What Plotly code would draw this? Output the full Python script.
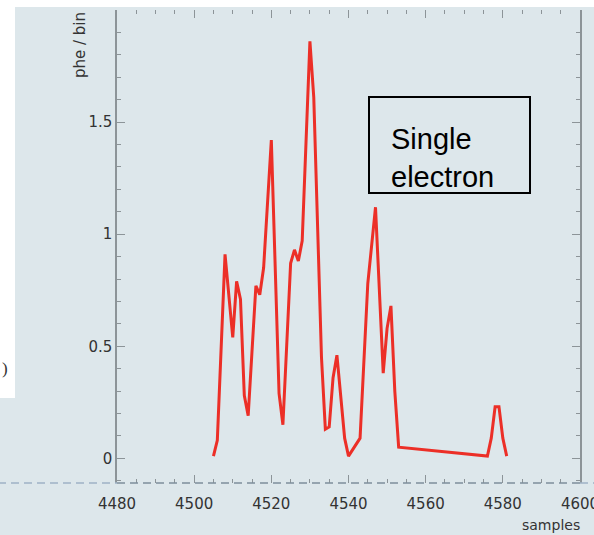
import plotly.graph_objects as go

# ---- data ----
samples = [4505, 4506, 4508, 4510, 4511, 4512, 4513, 4514, 4516, 4517, 4518, 4520,
           4522, 4523, 4525, 4526, 4527, 4528, 4530, 4531, 4533, 4534, 4535, 4536,
           4537, 4538, 4539, 4540, 4543, 4545, 4547, 4549, 4550, 4551, 4552, 4553,
           4576, 4577, 4578, 4579, 4580, 4581]
phe_per_bin = [0.01, 0.08, 0.91, 0.54, 0.79, 0.71, 0.28, 0.19, 0.77, 0.73, 0.85, 1.42,
               0.29, 0.15, 0.87, 0.93, 0.88, 0.97, 1.86, 1.61, 0.45, 0.13, 0.14, 0.36,
               0.46, 0.27, 0.09, 0.01, 0.09, 0.78, 1.12, 0.38, 0.58, 0.68, 0.30, 0.05,
               0.01, 0.09, 0.23, 0.23, 0.09, 0.01]
x_ticks = [4480, 4500, 4520, 4540, 4560, 4580, 4600]
y_ticks = [0, 0.5, 1, 1.5]
y_tick_text = ["0", "0.5", "1", "1.5"]
box_text = "Single<br>electron"
x_title = "samples"
y_title = "phe / bin"

W, H = 594, 535
L, R, T, B = 117, 14, 10, 52
pw, ph = W - L - R, H - T - B

def px(xp):
    return (xp - L) / pw

def py(yp):
    return (H - B - yp) / ph

BG = "#dde7eb"
AX = "#8c9498"
TXT = "#333333"
FONT = "DejaVu Sans"

fig = go.Figure()
fig.add_trace(go.Scatter(x=samples, y=phe_per_bin, mode="lines",
                         line=dict(color="#ec2f27", width=3), showlegend=False,
                         hoverinfo="skip"))
# invisible copy to activate the mirrored (top/right) tick axes
fig.add_trace(go.Scatter(x=samples, y=phe_per_bin, mode="lines", xaxis="x2", yaxis="y2",
                         line=dict(color="rgba(0,0,0,0)", width=0), showlegend=False,
                         hoverinfo="skip"))

xr = [4480, 4600.001]
yr = [-0.11, 2.0]
common_x = dict(range=xr, tickvals=x_ticks, ticks="inside", ticklen=8, tickwidth=1.2,
                tickcolor=AX, showgrid=False, zeroline=False, automargin=False,
                minor=dict(dtick=5, tick0=4480, ticks="inside", ticklen=4, tickcolor=AX,
                           tickwidth=1, showgrid=False))
common_y = dict(range=yr, tickvals=y_ticks, ticks="inside", ticklen=8, tickwidth=1.2,
                tickcolor=AX, showgrid=False, zeroline=False, automargin=False,
                minor=dict(dtick=0.1, tick0=0, ticks="inside", ticklen=4, tickcolor=AX,
                           tickwidth=1, showgrid=False))

fig.update_layout(
    width=W, height=H,
    margin=dict(l=L, r=R, t=T, b=B, pad=0, autoexpand=False),
    paper_bgcolor=BG, plot_bgcolor=BG,
    font=dict(family=FONT, size=15, color=TXT),
    xaxis=dict(**common_x, showline=False, ticktext=[str(v) for v in x_ticks],
               tickfont=dict(size=15, color=TXT), ticklabelstandoff=10,
               ticklabeloverflow="allow"),
    yaxis=dict(**common_y, showline=True, linecolor=AX, linewidth=1.5,
               ticktext=y_tick_text, tickfont=dict(size=15, color=TXT)),
    xaxis2=dict(**common_x, overlaying="x", side="top", showline=False,
                showticklabels=False),
    yaxis2=dict(**common_y, overlaying="y", side="right", showline=True,
                linecolor=AX, linewidth=1.5, showticklabels=False),
    showlegend=False,
)

shapes = []
# white strips (page edges of the original capture)
shapes.append(dict(type="rect", xref="paper", yref="paper", layer="above",
                   x0=px(-5), x1=px(15), y0=py(398), y1=py(-5),
                   fillcolor="white", line=dict(width=0)))
shapes.append(dict(type="rect", xref="paper", yref="paper", layer="above",
                   x0=px(-5), x1=px(W + 5), y0=py(7), y1=py(-5),
                   fillcolor="white", line=dict(width=0)))
# dashed baseline
yb = py(483)
for a, b, c in [(px(-2), 0, "#9fb3c6"), (0, 1, "#7e8f9c"), (1, px(W + 2), "#9fb3c6")]:
    shapes.append(dict(type="line", xref="paper", yref="paper", layer="above",
                       x0=a, x1=b, y0=yb, y1=yb,
                       line=dict(color=c, width=1.5, dash="8px,5px")))
# annotation box
shapes.append(dict(type="rect", xref="paper", yref="paper", layer="above",
                   x0=px(369), x1=px(530), y0=py(193), y1=py(97),
                   line=dict(color="black", width=2), fillcolor="rgba(0,0,0,0)"))
fig.update_layout(shapes=shapes)

fig.add_annotation(xref="paper", yref="paper", x=px(389), y=py(158), xanchor="left",
                   yanchor="middle", align="left", showarrow=False, text=box_text,
                   font=dict(family="Liberation Sans", size=29, color="black"))
fig.add_annotation(xref="paper", yref="paper", x=px(582), y=py(525), xanchor="right",
                   yanchor="middle", showarrow=False, text=x_title,
                   font=dict(family=FONT, size=14, color=TXT))
fig.add_annotation(xref="paper", yref="paper", x=px(80), y=py(45), xanchor="center",
                   yanchor="middle", textangle=-90, showarrow=False, text=y_title,
                   font=dict(family=FONT, size=15, color=TXT))
fig.add_annotation(xref="paper", yref="paper", x=px(0), y=py(368), xanchor="left",
                   yanchor="middle", showarrow=False, text=")",
                   font=dict(family="Liberation Serif", size=17, color=TXT))

fig.write_html("out.html")
